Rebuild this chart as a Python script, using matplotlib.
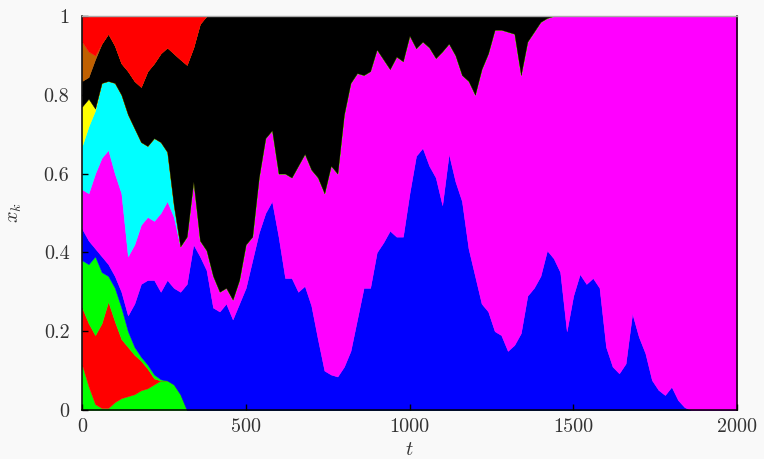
"""Stacked allele frequencies x_k(t) for ten alleles under neutral drift."""

import numpy as np
import matplotlib
matplotlib.use("Agg")
from matplotlib import pyplot as plt
from matplotlib.ticker import FuncFormatter

# generations at which the frequencies were sampled
t = np.arange(0, 2001, 20)

# upper edge of each allele band, stacked bottom to top.
# lists stop where the allele is lost; the tail is filled in by band_edge()
green_low_top = [0.115, 0.06, 0.015, 0.005, 0.005, 0.02, 0.03, 0.035, 0.04, 0.05,
                 0.055, 0.065, 0.075, 0.075, 0.065, 0.04]
red_low_top = [0.26, 0.22, 0.19, 0.22, 0.275, 0.225, 0.18, 0.16, 0.14, 0.125,
               0.105, 0.08]
green_mid_top = [0.38, 0.37, 0.39, 0.35, 0.34, 0.31, 0.26, 0.2, 0.16, 0.135,
                 0.115, 0.09, 0.078]
blue_top = [0.46, 0.43, 0.41, 0.39, 0.37, 0.34, 0.3, 0.24, 0.27, 0.32,
            0.33, 0.33, 0.3, 0.33, 0.31, 0.3, 0.32, 0.42, 0.39, 0.355,
            0.26, 0.25, 0.27, 0.23, 0.27, 0.31, 0.38, 0.45, 0.5, 0.53,
            0.44, 0.335, 0.335, 0.3, 0.315, 0.265, 0.18, 0.1, 0.09, 0.085,
            0.11, 0.15, 0.23, 0.31, 0.31, 0.4, 0.425, 0.455, 0.44, 0.44,
            0.55, 0.645, 0.665, 0.62, 0.59, 0.52, 0.65, 0.58, 0.53, 0.41,
            0.34, 0.27, 0.25, 0.2, 0.19, 0.15, 0.165, 0.195, 0.29, 0.31,
            0.34, 0.405, 0.385, 0.35, 0.2, 0.29, 0.345, 0.32, 0.335, 0.31,
            0.16, 0.11, 0.093, 0.118, 0.245, 0.186, 0.144, 0.076, 0.051, 0.038,
            0.059, 0.025, 0.007]
magenta_top = [0.56, 0.55, 0.6, 0.64, 0.66, 0.6, 0.55, 0.39, 0.42, 0.47,
               0.49, 0.48, 0.5, 0.53, 0.49, 0.415, 0.44, 0.58, 0.43, 0.405,
               0.34, 0.3, 0.31, 0.28, 0.33, 0.42, 0.44, 0.59, 0.69, 0.71,
               0.6, 0.6, 0.59, 0.62, 0.65, 0.61, 0.59, 0.55, 0.62, 0.6,
               0.75, 0.83, 0.855, 0.85, 0.86, 0.915, 0.89, 0.865, 0.897, 0.885,
               0.95, 0.918, 0.935, 0.92, 0.893, 0.91, 0.93, 0.9, 0.85, 0.835,
               0.8, 0.865, 0.905, 0.965, 0.965, 0.96, 0.955, 0.85, 0.935, 0.96,
               0.985, 0.995]
cyan_top = [0.67, 0.72, 0.76, 0.83, 0.835, 0.83, 0.8, 0.75, 0.715, 0.68,
            0.67, 0.69, 0.68, 0.655, 0.52]
yellow_top = [0.77, 0.79, 0.765]
black_top = [0.835, 0.845, 0.89, 0.93, 0.955, 0.925, 0.88, 0.86, 0.835, 0.82,
             0.86, 0.88, 0.905, 0.92, 0.905, 0.89, 0.876, 0.92, 0.98]
brown_top = [0.935, 0.91, 0.9]
red_high_top = [1.0]

colors = ["#00ff00", "#ff0000", "#00ff00", "#0000ff", "#ff00ff",
          "#00ffff", "#ffff00", "#000000", "#c06000", "#ff0000"]


def band_edge(values, fill=0.0):
    """Pad an edge list out to the full time axis."""
    edge = np.full(len(t), fill)
    edge[:len(values)] = values
    return edge


edges = np.vstack([
    band_edge(green_low_top),
    band_edge(red_low_top),
    band_edge(green_mid_top),
    band_edge(blue_top),
    band_edge(magenta_top, fill=1.0),
    band_edge(cyan_top),
    band_edge(yellow_top),
    band_edge(black_top, fill=1.0),
    band_edge(brown_top),
    band_edge(red_high_top, fill=1.0),
])
# a lost allele collapses onto the band below it
edges = np.maximum.accumulate(edges, axis=0)
lowers = np.vstack([np.zeros(len(t)), edges[:-1]])

plt.rcParams["font.family"] = "serif"
plt.rcParams["font.serif"] = ["cmr10", "DejaVu Serif"]
plt.rcParams["mathtext.fontset"] = "cm"
plt.rcParams["axes.unicode_minus"] = False

fig = plt.figure(figsize=(7.64, 4.59), dpi=100, facecolor="#f9f9f9")
ax = fig.add_axes([82 / 764, 49 / 459, 655 / 764, 394 / 459])

for lo, hi, c in zip(lowers, edges, colors):
    ax.fill_between(t, lo, hi, facecolor=c, edgecolor=c, linewidth=0.3)

ax.set_xlim(0, 2000)
ax.set_ylim(0, 1)
ax.set_xticks([0, 500, 1000, 1500, 2000])
ax.set_yticks([0, 0.2, 0.4, 0.6, 0.8, 1.0])
fmt = FuncFormatter(lambda v, pos: f"{v:g}")
ax.xaxis.set_major_formatter(fmt)
ax.yaxis.set_major_formatter(fmt)
ax.tick_params(direction="in", length=4.5, width=1, top=False, right=False,
               labelsize=14.5, labelcolor="#333333")
ax.tick_params(axis="x", pad=6)
ax.tick_params(axis="y", pad=9)

for side in ["left", "bottom", "right"]:
    ax.spines[side].set_linewidth(1.1)
    ax.spines[side].set_color("black")
ax.spines["top"].set_color("#aaaaaa")
ax.spines["top"].set_linewidth(1.0)

ax.set_xlabel("$t$", fontsize=14.5, color="#333333")
ax.set_ylabel("$x_k$", fontsize=14.5, color="#333333")
ax.xaxis.set_label_coords(0.5, -0.08)
ax.yaxis.set_label_coords(-0.088, 0.5)

fig.savefig("out.png", dpi=100, facecolor=fig.get_facecolor())
